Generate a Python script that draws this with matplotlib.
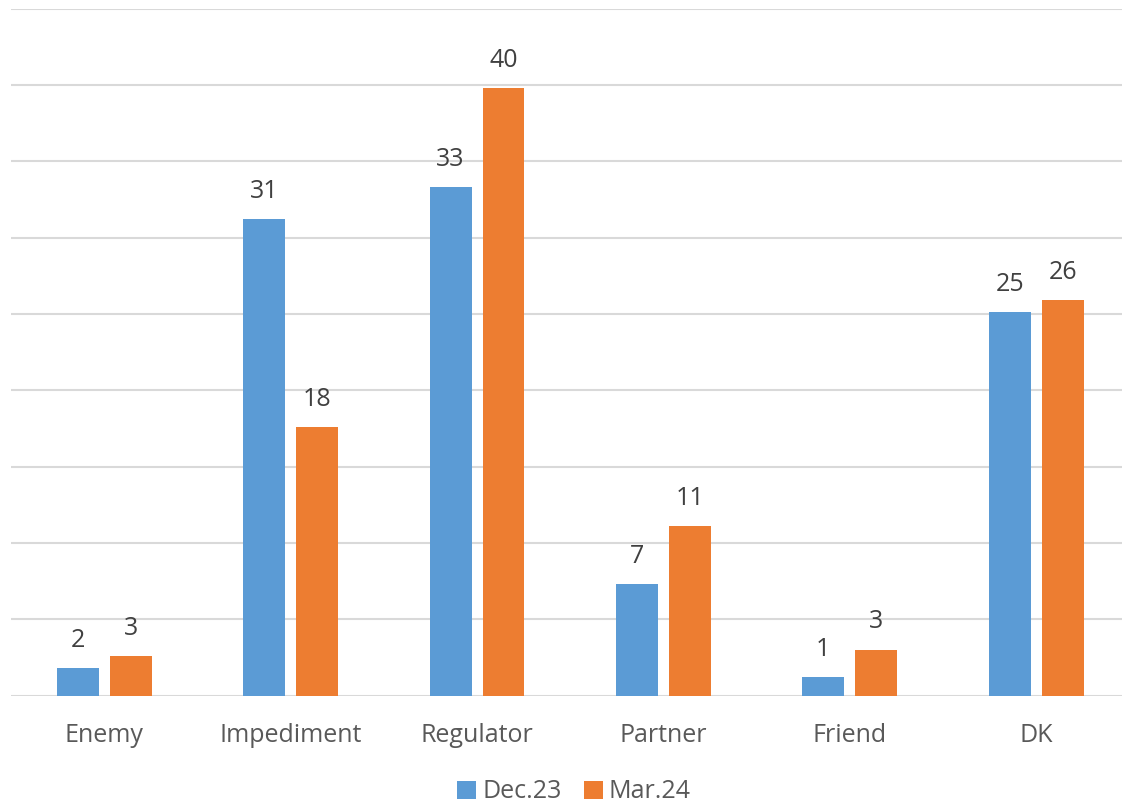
import numpy as np
import matplotlib.pyplot as plt

categories = ["Enemy", "Impediment", "Regulator", "Partner", "Friend", "DK"]
dec23 = [1.8, 31.2, 33.3, 7.3, 1.2, 25.1]
mar24 = [2.6, 17.6, 39.8, 11.1, 3.0, 25.9]
series_names = ["Dec.23", "Mar.24"]

plt.rcParams['font.family'] = ['Open Sans', 'DejaVu Sans']

fig = plt.figure(figsize=(11.22, 8.06), dpi=100)
ax = fig.add_axes([11/1122, 1 - 695.5/806, (1122 - 11)/1122, 687/806])

x = np.arange(len(categories))
w = 0.225
off = 0.142
b1 = ax.bar(x - off, dec23, w, color="#5b9bd5", label=series_names[0], zorder=3)
b2 = ax.bar(x + off, mar24, w, color="#ed7d31", label=series_names[1], zorder=3)

for bars in (b1, b2):
    ax.bar_label(bars, labels=[f"{v:.0f}" for v in bars.datavalues], padding=11,
                 fontsize=18, color="#404040")

ax.set_ylim(0, 45)
ax.set_xlim(-0.5, 5.46)
ax.set_yticks(np.arange(0, 46, 5))
ax.yaxis.grid(True, color="#d9d9d9", linewidth=1.5, zorder=0)
ax.tick_params(axis="y", left=False, labelleft=False)
ax.tick_params(axis="x", length=0, pad=20, labelsize=18, labelcolor="#595959")
ax.set_xticks(x)
ax.set_xticklabels(categories)
for s in ax.spines.values():
    s.set_visible(False)

fig.legend(loc="center", bbox_to_anchor=(574/1122, 1 - 792/806), ncol=2, frameon=False,
           fontsize=18, labelcolor="#595959", handlelength=0.75, handleheight=0.75,
           handletextpad=0.25, columnspacing=0.9)

fig.savefig("out.png", dpi=100)
